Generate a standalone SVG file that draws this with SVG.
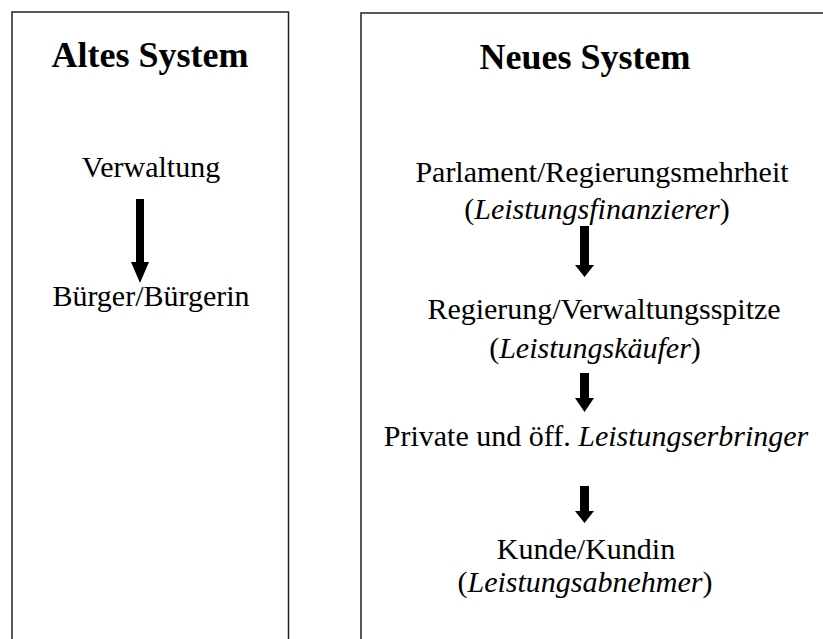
<svg xmlns="http://www.w3.org/2000/svg" width="823" height="639" viewBox="0 0 823 639">
<style>
.frame{fill:none;stroke:#222;stroke-width:1.5}
.h{font-family:"Liberation Serif","Times New Roman",serif;font-size:36px;font-weight:bold;text-anchor:middle;fill:#000}
.t{font-family:"Liberation Serif","Times New Roman",serif;font-size:30px;text-anchor:middle;fill:#000}
.i{font-style:italic}
.arr{fill:#000}
</style>
<rect width="823" height="639" fill="#fff"/>
<g id="altes-system">
<path class="frame" d="M12,640 V12 H288.5 V640"/>
<text class="h" x="150" y="67">Altes System</text>
</g>
<g id="neues-system">
<path class="frame" d="M361,640 V13 H824"/>
<text class="h" x="585" y="69">Neues System</text>
</g>
<g id="verwaltung"><text class="t" x="151" y="177">Verwaltung</text></g>
<g id="buerger"><text class="t" x="151" y="306">Bürger/Bürgerin</text></g>
<g id="parlament">
<text class="t" x="602" y="182">Parlament/Regierungsmehrheit</text>
<text class="t" x="597" y="219">(<tspan class="i">Leistungsfinanzierer</tspan>)</text>
</g>
<g id="regierung">
<text class="t" x="604" y="319">Regierung/Verwaltungsspitze</text>
<text class="t" x="595" y="358">(<tspan class="i">Leistungskäufer</tspan>)</text>
</g>
<g id="erbringer">
<text class="t" x="596" y="446">Private und öff. <tspan class="i">Leistungserbringer</tspan></text>
</g>
<g id="kunde">
<text class="t" x="586" y="559">Kunde/Kundin</text>
<text class="t" x="585" y="592">(<tspan class="i">Leistungsabnehmer</tspan>)</text>
</g>
<g id="connectors">
<polygon class="arr" points="136,199 144,199 144,262 149,262 140,283 131,262 136,262"/>
<polygon class="arr" points="580,226 589,226 589,265 594,265 584.5,277 575,265 580,265"/>
<polygon class="arr" points="580,373 589,373 589,398 594,398 584.5,412 575,398 580,398"/>
<polygon class="arr" points="580,486 589,486 589,511 594,511 584.5,523 575,511 580,511"/>
</g>
</svg>
